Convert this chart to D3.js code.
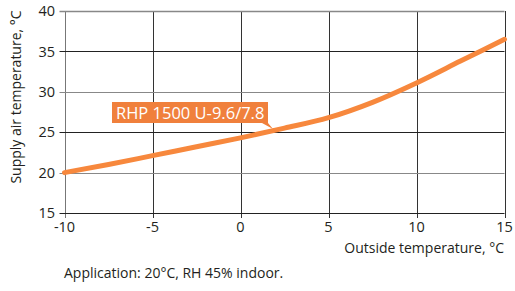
<!DOCTYPE html>
<html><head><meta charset="utf-8">
<script src="https://cdn.jsdelivr.net/npm/d3@7"></script>
<style>body{margin:0;background:#fff}svg{display:block}text{font-family:"Open Sans",sans-serif;fill:#231f20}</style>
</head><body><svg id="c" width="515" height="291"></svg>
<script>
const xTicks = [-10, -5, 0, 5, 10, 15];
const yTicks = [15, 20, 25, 30, 35, 40];
const outsideTemp = [-10, -7.5, -5, -2.5, 0, 2.5, 5, 7.5, 10, 12.5, 15];
const supplyTemp = [20.0, 21.0, 22.1, 23.2, 24.3, 25.5, 26.8, 28.7, 31.1, 33.8, 36.5];
const seriesLabel = "RHP 1500 U-9.6/7.8";
const xTitle = "Outside temperature, °C";
const yTitle = "Supply air temperature, °C";
const note = "Application: 20°C, RH 45% indoor.";

const svg = d3.select("#c");
const x = d3.scaleLinear().domain([-10, 15]).range([64.5, 504.5]);
const y = d3.scaleLinear().domain([15, 40]).range([213, 11]);

// grid
const g = svg.append("g");
g.selectAll(".vg").data(xTicks).join("line")
  .attr("x1", d => Math.round(x(d)) + 0.5).attr("x2", d => Math.round(x(d)) + 0.5)
  .attr("y1", y(40)).attr("y2", y(15) + 5)
  .attr("stroke", d => d === -10 ? "#777" : "#333").attr("stroke-width", 1);
g.selectAll(".hg").data(yTicks).join("line")
  .attr("y1", d => Math.round(y(d)) + 0.5).attr("y2", d => Math.round(y(d)) + 0.5)
  .attr("x1", x(-10) - 5).attr("x2", x(15))
  .attr("stroke", d => (d === 40 || d === 30 || d === 20) ? "#888" : "#222").attr("stroke-width", d => d === 40 ? 1.5 : 1);

// axes labels
svg.append("g").selectAll("text").data(yTicks).join("text")
  .attr("x", 55).attr("y", d => y(d)).attr("dy", "0.36em")
  .attr("text-anchor", "end").attr("font-size", 14.5).text(d => d);
svg.append("g").selectAll("text").data(xTicks).join("text")
  .attr("x", d => x(d)).attr("y", 232)
  .attr("text-anchor", "middle").attr("font-size", 14.5).text(d => d);

svg.append("text").attr("x", 504).attr("y", 253).attr("text-anchor", "end")
  .attr("font-size", 14).text(xTitle);
svg.append("text").attr("transform", "translate(21,97) rotate(-90)")
  .attr("text-anchor", "middle").attr("font-size", 14).text(yTitle);
svg.append("text").attr("x", 64).attr("y", 278).attr("font-size", 14).text(note);

// curve
const line = d3.line().x((d, i) => x(outsideTemp[i])).y(d => y(d)).curve(d3.curveMonotoneX);
svg.append("path").datum(supplyTemp).attr("d", line)
  .attr("fill", "none").attr("stroke", "#F7883D").attr("stroke-width", 5).attr("stroke-linecap", "round");

// label callout
const lg = svg.append("g");
lg.append("path").attr("d", "M112,102 H268 V123 H268 L273,129 L262,123 H112 Z").attr("fill", "#F0803C");
lg.append("text").attr("x", 116).attr("y", 119).attr("font-size", 16.5)
  .style("fill", "#fff").text(seriesLabel);
</script></body></html>
